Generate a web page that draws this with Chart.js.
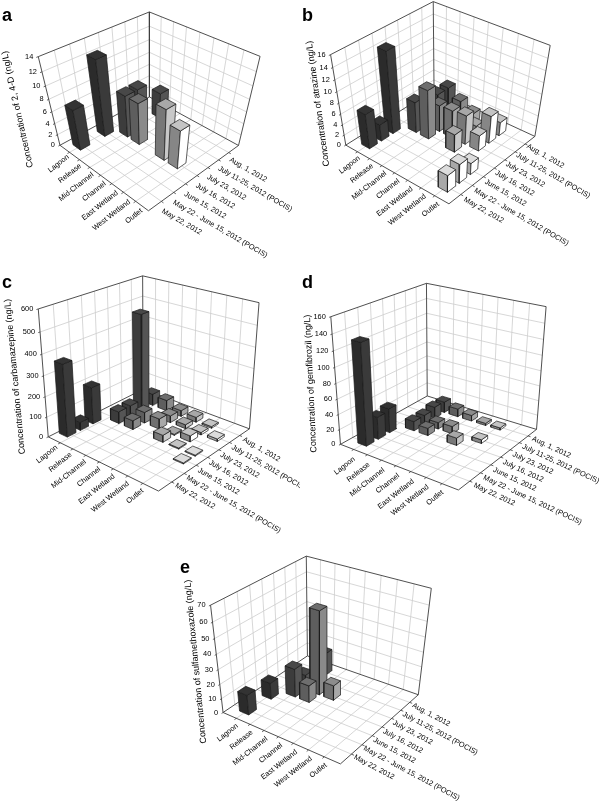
<!DOCTYPE html>
<html><head><meta charset="utf-8">
<script src="https://cdn.jsdelivr.net/npm/chart.js@4"></script>
<style>html,body{margin:0;background:#fff}#wrap{position:relative;width:600px;height:803px;overflow:hidden}canvas{position:absolute;filter:blur(0.3px)}</style>
</head><body><div id="wrap"></div>
<script>
const sites = ["Lagoon","Release","Mid-Channel","Channel","East Wetland","West Wetland","Outlet"];
const dates = ["May 22, 2012","May 22 - June 15, 2012 (POCIS)","June 15, 2012","July 16, 2012","July 23, 2012","July 11-25, 2012 (POCIS)","Aug. 1, 2012"];

// rows = sites, columns = dates, null = no bar
const _ = null;
const valuesA = [
 [7,_,12.5,_,_,_,_],
 [_,_,_,7.2,7.2,_,4.5],
 [_,_,_,7.2,_,_,_],
 [_,_,_,_,_,_,_],
 [_,_,_,8.7,_,_,_],
 [_,_,_,6.7,_,_,_],
 [_,_,_,_,_,_,_]
];
const valuesB = [
 [6.6,3.2,14.8,_,_,_,_],
 [_,_,_,5.8,_,4.6,4.6],
 [_,_,_,9.1,5,_,3.1],
 [_,_,_,_,5.2,_,1.9],
 [_,_,_,3.4,5.5,2.1,_],
 [_,_,_,_,3,5.2,2.6],
 [3.3,3.7,2.2,_,_,_,_]
];
const valuesC = [
 [355,40,185,_,_,_,_],
 [_,_,_,60,60,490,60],
 [_,_,_,45,55,_,55],
 [_,_,_,_,52,35,30],
 [_,_,_,35,5,20,25],
 [_,_,_,5,30,12,8],
 [_,_,5,5,_,12,_]
];
const valuesD = [
 [132,30,33,_,_,_,_],
 [_,_,_,13,13,16,15],
 [_,_,_,10,9,_,11],
 [_,_,_,_,10,_,8],
 [_,_,_,10,_,_,3],
 [_,_,_,_,5,_,3],
 [_,_,_,_,_,_,_]
];
const valuesE = [
 [14,_,11.5,_,_,_,_],
 [_,_,_,20,10.5,_,16],
 [_,_,_,12,57,_,_],
 [_,_,_,_,10.5,_,_],
 [_,_,_,_,_,_,_],
 [_,_,_,_,_,_,_],
 [_,_,_,_,_,_,_]
];

const ticksA = [0,2,4,6,8,10,12,14];
const ticksB = [0,2,4,6,8,10,12,14,16];
const ticksC = [0,100,200,300,400,500,600];
const ticksD = [0,20,40,60,80,100,120,140,160];
const ticksE = [0,10,20,30,40,50,60,70];

// grey levels per site: left face, right face, top
const faceLeft  = ["#2b2b2b","#3c3c3c","#5e5e5e","#707070","#787878","#868686","#a8a8a8"];
const faceRight = ["#3a3a3a","#555555","#8a8a8a","#a8a8a8","#c8c8c8","#ffffff","#ffffff"];
const faceTop   = ["#333333","#484848","#6e6e6e","#8c8c8c","#a8a8a8","#c4c4c4","#dcdcdc"];

// corners and label anchors read in 3x zoom coords
const panels = [
 {letter:"a",title:"Concentration of 2, 4-D (ng/L)",values:valuesA,ticks:ticksA,box:[0,0,300,270],letterAt:[2,21],
  A:[180,435],F:[445,633],R:[716,435],B:[448,292],TL:[115,170],TB:[448,35],TR:[780,170],
  siteStart:0.93,siteStep:1.096,half:0.38,titleAt:[53,328],titleRot:-102.6,dateRot:30,
  siteFirst:[205,468],siteLast:[425,630],dateFirst:[487,632],dateLast:[690,478]},
 {letter:"b",title:"Concentration of atrazine (ng/L)",values:valuesB,ticks:ticksB,box:[300,0,300,270],letterAt:[2,21],
  A:[137,433],F:[447,613],R:[705,407],B:[402,272],TL:[92,165],TB:[400,3],TR:[750,137],
  siteStart:1,siteStep:1,half:0.33,titleAt:[54,311],titleRot:-98,dateRot:30,
  siteFirst:[178,472],siteLast:[415,610],dateFirst:[493,597],dateLast:[682,437]},
 {letter:"c",title:"Concentration of carbamazepine (ng/L)",values:valuesC,ticks:ticksC,box:[0,265,300,270],letterAt:[2,23],
  A:[145,520],F:[475,675],R:[748,495],B:[430,368],TL:[115,130],TB:[427,35],TR:[778,112],
  siteStart:0.5,siteStep:1.1,half:0.33,titleAt:[45,335],titleRot:-95.5,dateRot:30,
  siteFirst:[170,545],siteLast:[428,675],dateFirst:[527,660],dateLast:[730,522]},
 {letter:"d",title:"Concentration of gemfibrozil (ng/L)",values:valuesD,ticks:ticksD,box:[300,265,300,270],letterAt:[2,23],
  A:[122,538],F:[475,675],R:[710,493],B:[381,393],TL:[92,155],TB:[380,55],TR:[738,125],
  siteStart:1,siteStep:1,half:0.32,titleAt:[32,356],titleRot:-92.7,dateRot:25,
  siteFirst:[163,580],siteLast:[428,680],dateFirst:[522,660],dateLast:[697,520]},
 {letter:"e",title:"Concentration of sulfamethoxazole (ng/L)",values:valuesE,ticks:ticksE,box:[150,535,340,268],letterAt:[30,38],
  A:[220,530],F:[572,688],R:[806,478],B:[470,365],TL:[180,212],TB:[472,62],TR:[842,160],
  siteStart:1,siteStep:1,half:0.34,titleAt:[137,380],titleRot:-95.6,dateRot:28,
  siteFirst:[262,570],siteLast:[528,688],dateFirst:[613,665],dateLast:[788,510]}
];

// least squares 3x4 projection from the 7 box corners
function solveProjection(p){
  const pts=[[0,0,0,p.A],[1,0,0,p.F],[1,1,0,p.R],[0,1,0,p.B],[0,0,1,p.TL],[0,1,1,p.TB],[1,1,1,p.TR]];
  const rows=[],rhs=[];
  pts.forEach(([u,v,w,c])=>{
    const X=c[0]/3,Y=c[1]/3;
    rows.push([u,v,w,1,0,0,0,0,-X*u,-X*v,-X*w]);rhs.push(X);
    rows.push([0,0,0,0,u,v,w,1,-Y*u,-Y*v,-Y*w]);rhs.push(Y);
  });
  const n=11,M=[];
  for(let i=0;i<n;i++){
    M[i]=[];
    for(let j=0;j<n;j++){let s=0;rows.forEach(r=>s+=r[i]*r[j]);M[i][j]=s;}
    let s=0;rows.forEach((r,k)=>s+=r[i]*rhs[k]);M[i][n]=s;
  }
  for(let i=0;i<n;i++){
    let m=i;for(let k=i+1;k<n;k++)if(Math.abs(M[k][i])>Math.abs(M[m][i]))m=k;
    [M[i],M[m]]=[M[m],M[i]];
    for(let k=0;k<n;k++){if(k==i)continue;const f=M[k][i]/M[i][i];for(let j=i;j<=n;j++)M[k][j]-=f*M[i][j];}
  }
  const s=M.map((r,i)=>r[n]/r[i]);
  return (u,v,w)=>{
    const d=s[8]*u+s[9]*v+s[10]*w+1;
    return {x:(s[0]*u+s[1]*v+s[2]*w+s[3])/d,y:(s[4]*u+s[5]*v+s[6]*w+s[7])/d};
  };
}

function lineDs(points,color,width){
  return {data:points,showLine:true,borderColor:color,borderWidth:width,pointRadius:0,fill:false,tension:0};
}
function faceDs(points,color){
  return {data:points,showLine:true,borderColor:"#1a1a1a",borderWidth:0.7,pointRadius:0,backgroundColor:color,fill:"shape",tension:0};
}

function buildDatasets(p,proj){
  const back=[],n=8,top=p.ticks[p.ticks.length-1];
  const grid="#cdcdcd",dark="#3c3c3c";
  for(let k=1;k<n;k++){
    const t=k/n;
    back.push(lineDs([proj(t,0,0),proj(t,1,0)],grid,0.8));
    back.push(lineDs([proj(0,t,0),proj(1,t,0)],grid,0.8));
    back.push(lineDs([proj(0,t,0),proj(0,t,1)],grid,0.8));
    back.push(lineDs([proj(t,1,0),proj(t,1,1)],grid,0.8));
  }
  p.ticks.slice(1,-1).forEach(t=>{
    const w=t/top;
    back.push(lineDs([proj(0,0,w),proj(0,1,w)],grid,0.8));
    back.push(lineDs([proj(0,1,w),proj(1,1,w)],grid,0.8));
  });
  // box frame
  [[[0,0,0],[0,0,1]],[[0,0,1],[0,1,1]],[[0,1,1],[1,1,1]],[[1,1,1],[1,1,0]],[[0,1,1],[0,1,0]],
   [[0,0,0],[0,1,0]],[[0,1,0],[1,1,0]],[[0,0,0],[1,0,0]],[[1,0,0],[1,1,0]]].forEach(([a,b])=>{
    back.push(lineDs([proj(...a),proj(...b)],dark,0.9));
  });
  // tick marks
  for(let k=1;k<n;k++){
    back.push(lineDs([proj(k/n,0,0),proj(k/n,-0.02,0)],dark,0.8));
    back.push(lineDs([proj(1,k/n,0),proj(1.02,k/n,0)],dark,0.8));
  }
  p.ticks.forEach(t=>back.push(lineDs([proj(0,0,t/top),proj(0,-0.015,t/top)],dark,0.8)));
  // bars back to front
  const half=p.half/n;
  const order=[];
  p.values.forEach((row,i)=>row.forEach((val,j)=>{if(val!=null)order.push([i,j,val]);}));
  order.sort((a,b)=>(a[0]-a[1])-(b[0]-b[1]));
  order.forEach(([i,j,val])=>{
    const u=(p.siteStart+i*p.siteStep)/n,v=(j+1)/n,w=val/top;
    const u0=u-half,u1=u+half,v0=v-half,v1=v+half;
    back.push(faceDs([proj(u0,v0,0),proj(u1,v0,0),proj(u1,v0,w),proj(u0,v0,w),proj(u0,v0,0)],faceLeft[i]));
    back.push(faceDs([proj(u1,v0,0),proj(u1,v1,0),proj(u1,v1,w),proj(u1,v0,w),proj(u1,v0,0)],faceRight[i]));
    back.push(faceDs([proj(u0,v0,w),proj(u1,v0,w),proj(u1,v1,w),proj(u0,v1,w),proj(u0,v0,w)],faceTop[i]));
  });
  // chart.js paints the first dataset last
  return back.reverse();
}

// axis text, placed through the chart's scales
const axisText={
  id:"axisText",
  afterDatasetsDraw(chart,args,o){
    const c=chart.ctx,p=o.panel,proj=o.proj,top=p.ticks[p.ticks.length-1];
    const sx=chart.scales.x,sy=chart.scales.y;
    const put=(str,pt,dx,dy,rot,align)=>{
      c.save();
      c.translate(sx.getPixelForValue(pt.x)+dx,sy.getPixelForValue(pt.y)+dy);
      c.rotate(rot*Math.PI/180);
      c.textAlign=align;c.textBaseline="middle";
      c.fillText(str,0,0);
      c.restore();
    };
    const along=(a,b,t)=>({x:(a[0]+(b[0]-a[0])*t)/3,y:(a[1]+(b[1]-a[1])*t)/3});
    c.fillStyle="#000";
    c.font='7.4px "Liberation Sans"';
    sites.forEach((s,i)=>put(s,along(p.siteFirst,p.siteLast,i/6),0,0,-38,"right"));
    dates.forEach((s,j)=>put(s,along(p.dateFirst,p.dateLast,j/6),0,0,p.dateRot,"left"));
    p.ticks.forEach(t=>put(String(t),proj(0,0,t/top),-5,0,0,"right"));
    c.font='9px "Liberation Sans"';
    put(p.title,{x:p.titleAt[0]/3,y:p.titleAt[1]/3},0,0,p.titleRot,"center");
    c.font='bold 18px "Liberation Sans"';
    c.textAlign="left";c.textBaseline="alphabetic";
    c.fillText(p.letter,p.letterAt[0],p.letterAt[1]);
  }
};

panels.forEach(p=>{
  const cv=document.createElement("canvas");
  const [x,y,w,h]=p.box;
  cv.style.left=x+"px";cv.style.top=y+"px";cv.style.width=w+"px";cv.style.height=h+"px";
  cv.width=w;cv.height=h;
  document.getElementById("wrap").appendChild(cv);
  const proj=solveProjection(p);
  new Chart(cv,{
    type:"scatter",
    data:{datasets:buildDatasets(p,proj)},
    plugins:[axisText],
    options:{
      responsive:false,animation:false,
      layout:{padding:0},
      scales:{
        x:{type:"linear",min:0,max:w,display:false},
        y:{type:"linear",min:0,max:h,reverse:true,display:false}
      },
      plugins:{legend:{display:false},tooltip:{enabled:false},
        axisText:{panel:p,proj:proj}}
    }
  });
});
</script></body></html>
